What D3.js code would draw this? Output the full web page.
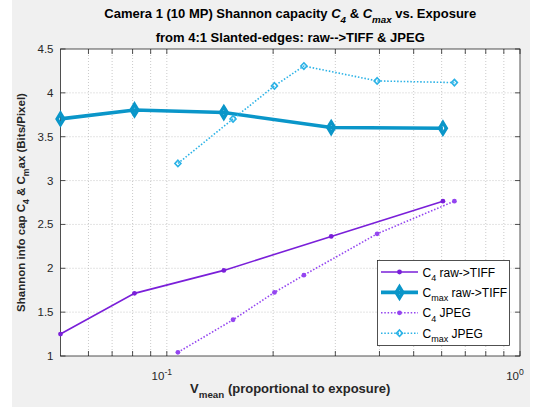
<!DOCTYPE html>
<html>
<head>
<meta charset="utf-8">
<script src="https://cdn.jsdelivr.net/npm/d3@7"></script>
<style>
	body { margin: 0; background: #fff; }
	svg { display: block; font-family: "Liberation Sans", Arial, sans-serif; }
</style>
</head>
<body>
<div id="chart"></div>
<script>
// values
const rawExposure = [0.05, 0.081, 0.145, 0.292, 0.605]
const c4Raw = [1.25, 1.714, 1.976, 2.363, 2.765]
const cmaxRaw = [3.703, 3.805, 3.776, 3.605, 3.597]

const jpegExposure = [0.1075, 0.154, 0.2017, 0.2444, 0.394, 0.652]
const c4Jpeg = [1.042, 1.413, 1.725, 1.922, 2.393, 2.765]
const cmaxJpeg = [3.195, 3.703, 4.079, 4.306, 4.136, 4.117]

const yTicks = [1, 1.5, 2, 2.5, 3, 3.5, 4, 4.5]
const xMajorTicks = [0.1, 1]
const xMajorLabels = [['10', '-1'], ['10', '0']]
const xMinorTicks = [0.06, 0.07, 0.08, 0.09, 0.2, 0.3, 0.4, 0.5, 0.6, 0.7, 0.8, 0.9]

const width = 542, height = 407
const margin = {left: 60.5, right: 22, top: 49, bottom: 51}

const x = d3.scaleLog().domain([0.05, 1]).range([margin.left, width - margin.right])
const y = d3.scaleLinear().domain([1, 4.5]).range([height - margin.bottom, margin.top])

const svg = d3.select('#chart').append('svg')
	.attr('width', width)
	.attr('height', height)

// matlab figure background
svg.append('rect')
	.attr('x', 12).attr('y', 0)
	.attr('width', 518).attr('height', height)
	.style('fill', '#f0f0f0')

svg.append('rect')
	.attr('x', x.range()[0]).attr('y', y.range()[1])
	.attr('width', x.range()[1] - x.range()[0])
	.attr('height', y.range()[0] - y.range()[1])
	.style('fill', '#fff')

// rich text: parts are [text, mode], mode = 'sub' | 'sup' | 'it' | 'itsub'
function rich(text, parts, size) {
	let shift = 0
	for (let [t, mode] of parts) {
		let ts = text.append('tspan').text(t)
		let target = 0
		if (mode == 'sub' || mode == 'itsub') target = size * 0.35
		if (mode == 'sup') target = -size * 0.45
		if (mode == 'sub' || mode == 'sup' || mode == 'itsub') ts.attr('font-size', size * 0.75)
		if (mode == 'it' || mode == 'itsub') ts.attr('font-style', 'italic')
		if (target != shift) { ts.attr('dy', target - shift); shift = target }
	}
	return text
}

// grid
const grid = svg.append('g')
	.style('stroke', '#bdbdbd')
	.style('stroke-width', 0.8)
	.style('stroke-dasharray', '1,2')

grid.selectAll('.gx')
	.data(xMajorTicks.concat(xMinorTicks).filter(d => d < 1))
	.enter().append('line')
	.attr('x1', d => x(d)).attr('x2', d => x(d))
	.attr('y1', y.range()[0]).attr('y2', y.range()[1])

grid.selectAll('.gy')
	.data(yTicks.slice(1, -1))
	.enter().append('line')
	.attr('x1', x.range()[0]).attr('x2', x.range()[1])
	.attr('y1', d => y(d)).attr('y2', d => y(d))

// axes with inward ticks, boxed
const axisColor = '#262626'
const tickLen = 5
const axes = svg.append('g').style('stroke', axisColor).style('stroke-width', 0.8)

axes.append('rect')
	.attr('x', x.range()[0]).attr('y', y.range()[1])
	.attr('width', x.range()[1] - x.range()[0])
	.attr('height', y.range()[0] - y.range()[1])
	.style('fill', 'none')

for (let d of xMajorTicks.concat(xMinorTicks)) {
	axes.append('line').attr('x1', x(d)).attr('x2', x(d))
		.attr('y1', y.range()[0]).attr('y2', y.range()[0] - tickLen)
	axes.append('line').attr('x1', x(d)).attr('x2', x(d))
		.attr('y1', y.range()[1]).attr('y2', y.range()[1] + tickLen)
}
for (let d of yTicks) {
	axes.append('line').attr('y1', y(d)).attr('y2', y(d))
		.attr('x1', x.range()[0]).attr('x2', x.range()[0] + tickLen)
	axes.append('line').attr('y1', y(d)).attr('y2', y(d))
		.attr('x1', x.range()[1]).attr('x2', x.range()[1] - tickLen)
}

svg.append('g').selectAll('text')
	.data(yTicks)
	.enter().append('text')
	.attr('x', x.range()[0] - 7)
	.attr('y', d => y(d) + 4)
	.attr('text-anchor', 'end')
	.style('font-size', '11.5px')
	.style('fill', axisColor)
	.text(d => d)

xMajorTicks.forEach((d, i) => {
	let t = svg.append('text')
		.attr('x', x(d) - 5)
		.attr('y', y.range()[0] + 24)
		.attr('text-anchor', 'middle')
		.style('font-size', '11.5px')
		.style('fill', axisColor)
	rich(t, [[xMajorLabels[i][0]], [xMajorLabels[i][1], 'sup']], 11.5)
})

// titles
const midX = (x.range()[0] + x.range()[1]) / 2
let t1 = svg.append('text').attr('x', midX).attr('y', 18)
	.attr('text-anchor', 'middle').style('font-size', '13px').style('font-weight', 'bold').style('fill', '#000')
rich(t1, [['Camera 1 (10 MP) Shannon capacity '], ['C', 'it'], ['4', 'itsub'], [' & '], ['C', 'it'], ['max', 'itsub'], [' vs. Exposure']], 13)

svg.append('text').attr('x', midX).attr('y', 42)
	.attr('text-anchor', 'middle').style('font-size', '13px').style('font-weight', 'bold').style('fill', '#000')
	.text('from 4:1 Slanted-edges: raw-->TIFF & JPEG')

let xl = svg.append('text').attr('x', midX).attr('y', 393)
	.attr('text-anchor', 'middle').style('font-size', '13px').style('font-weight', 'bold').style('fill', axisColor)
rich(xl, [['V'], ['mean', 'sub'], [' (proportional to exposure)']], 13)

let yl = svg.append('text')
	.attr('transform', `translate(25, ${(y.range()[0] + y.range()[1]) / 2}) rotate(-90)`)
	.attr('text-anchor', 'middle').style('font-size', '11.5px').style('font-weight', 'bold').style('fill', axisColor)
rich(yl, [['Shannon info cap C'], ['4', 'sub'], [' & C'], ['m', 'sub'], ['ax (Bits/Pixel)']], 11.5)

// series
const series = [
	{name: [['C'], ['4', 'sub'], ['  raw->TIFF']], xs: rawExposure, ys: c4Raw, color: '#7a1fd9', width: 1.6, dash: null, marker: 'dot'},
	{name: [['C'], ['max', 'sub'], [' raw->TIFF']], xs: rawExposure, ys: cmaxRaw, color: '#0a96c9', width: 3.6, dash: null, marker: 'bigdiamond'},
	{name: [['C'], ['4', 'sub'], [' JPEG']], xs: jpegExposure, ys: c4Jpeg, color: '#9445f0', width: 1.6, dash: '1.5,1.8', marker: 'dot'},
	{name: [['C'], ['max', 'sub'], [' JPEG']], xs: jpegExposure, ys: cmaxJpeg, color: '#2ab2e6', width: 1.6, dash: '1.5,1.8', marker: 'diamond'},
]

function marker(g, kind, color, cx, cy) {
	if (kind == 'dot') {
		g.append('circle').attr('cx', cx).attr('cy', cy).attr('r', 2.4).style('fill', color)
	} else {
		let w = kind == 'bigdiamond' ? 3.4 : 3
		let h = kind == 'bigdiamond' ? 5.6 : 3.2
		g.append('path')
			.attr('d', `M${cx},${cy - h}L${cx + w},${cy}L${cx},${cy + h}L${cx - w},${cy}Z`)
			.style('fill', 'none')
			.style('stroke', color)
			.style('stroke-width', kind == 'bigdiamond' ? 3.4 : 1.6)
	}
}

const line = d3.line().x(d => x(d[0])).y(d => y(d[1]))

for (let s of series) {
	let pts = s.xs.map((v, i) => [v, s.ys[i]])
	let g = svg.append('g')
	g.append('path')
		.attr('d', line(pts))
		.style('fill', 'none')
		.style('stroke', s.color)
		.style('stroke-width', s.width)
		.style('stroke-dasharray', s.dash)
	for (let p of pts) marker(g, s.marker, s.color, x(p[0]), y(p[1]))
}

// legend
const lg = svg.append('g')
lg.append('rect')
	.attr('x', 377.5).attr('y', 260.5).attr('width', 132).attr('height', 85)
	.style('fill', '#fff').style('stroke', axisColor).style('stroke-width', 0.8)

series.forEach((s, i) => {
	let ly = 272 + i * 20.4
	lg.append('line').attr('x1', 381).attr('x2', 418).attr('y1', ly).attr('y2', ly)
		.style('stroke', s.color).style('stroke-width', s.width).style('stroke-dasharray', s.dash)
	marker(lg, s.marker, s.color, 399.5, ly)
	let t = lg.append('text').attr('x', 422.5).attr('y', ly + 4.5)
		.style('font-size', '12px').style('fill', '#000')
	rich(t, s.name, 12)
})
</script>
</body>
</html>
